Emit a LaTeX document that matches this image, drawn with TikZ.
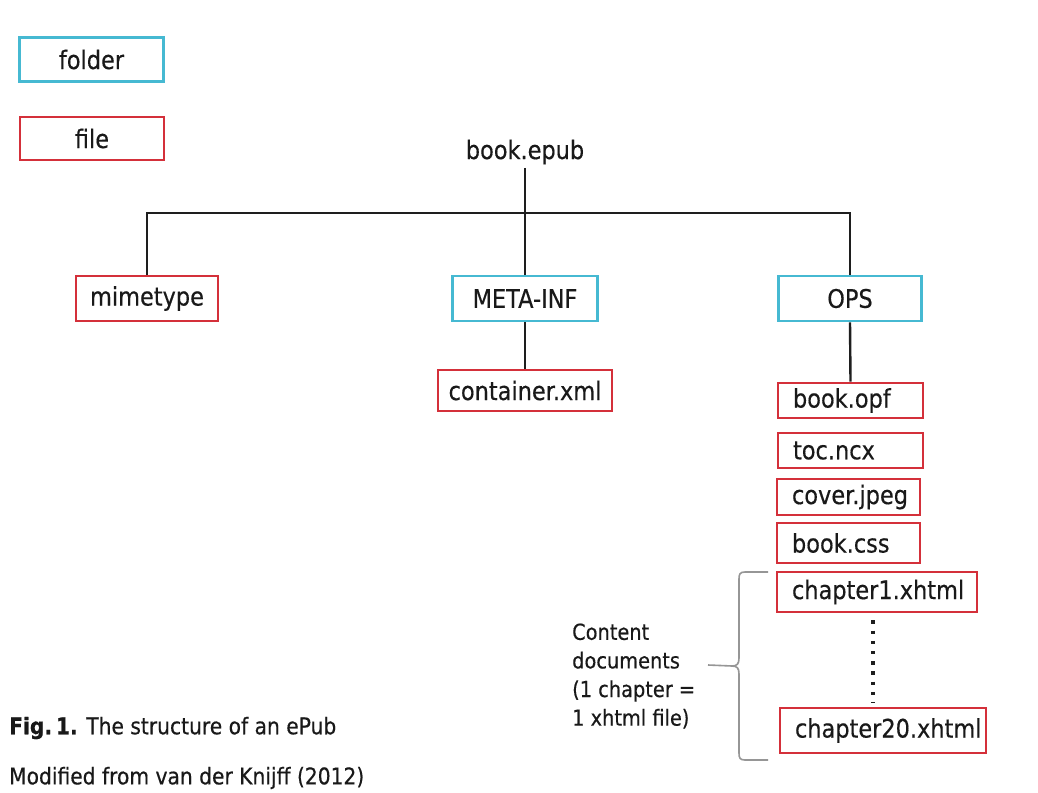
\documentclass[tikz,border=0pt]{standalone}
\usepackage{fontspec}
\setmainfont{DejaVu Sans}[FakeStretch=0.88, FakeBold=0.4]
\definecolor{fred}{RGB}{212,48,58}
\definecolor{fcyan}{RGB}{70,185,210}
\definecolor{txt}{RGB}{25,25,25}
\definecolor{lineblack}{RGB}{30,30,30}
\definecolor{bracegray}{RGB}{150,150,150}
\begin{document}
\begin{tikzpicture}[x=1pt,y=-1pt,
  lbl/.style={font=\fontsize{25.5}{28}\selectfont, text=txt},
  small/.style={font=\fontsize{22}{28.6}\selectfont, text=txt},
  fbox/.style={draw=fred, line width=2.8pt, lbl, inner sep=0pt, fill=white},
  dbox/.style={draw=fcyan, line width=2.8pt, lbl, inner sep=0pt, fill=white},
  leftbox/.style={inner xsep=15pt, inner ysep=0pt, align=left},
  conn/.style={draw=lineblack, line width=2.4pt},
  dotline/.style={draw=lineblack, line width=3.4pt, dash pattern=on 3.4pt off 6.8pt},
  bracel/.style={draw=bracegray, line width=1.6pt},
]
\fill[white] (0,0) rectangle (1038,792);
\useasboundingbox (0,0) rectangle (1038,792);

% legend
\node[dbox, minimum width=144, minimum height=44] (folder) at (91.5,59.5) {folder};
\node[fbox, minimum width=144, minimum height=43] (file) at (92,138.5) {file};

% root
\node[lbl] (epub) at (525,152) {book.epub};
\coordinate (junc) at (525,213);

% level 1
\node[fbox, minimum width=142, minimum height=45] (mime) at (147,298.5) {mimetype};
\node[dbox, minimum width=145, minimum height=45] (meta) at (525,298.5) {META-INF};
\node[dbox, minimum width=143, minimum height=45] (ops) at (850,298.5) {OPS};

% level 2
\node[fbox, minimum width=174, minimum height=41] (cont) at (525,390.5) {container.xml};
\node[fbox, leftbox, text width=115, minimum height=35] (opf) at (850.5,400.5) {book.opf};
\node[fbox, leftbox, text width=115, minimum height=35] (toc) at (850.5,450.5) {toc.ncx};
\node[fbox, leftbox, text width=113, minimum height=36] (cover) at (848.5,497) {cover.jpeg};
\node[fbox, leftbox, text width=113, minimum height=40] (css) at (848.5,543) {book.css};
\node[fbox, leftbox, text width=170, minimum height=40] (ch1) at (877,592) {chapter1.xhtml};
\node[fbox, leftbox, text width=176, minimum height=45] (ch20) at (883,730.5) {chapter20.xhtml};

% connectors
\draw[conn] (epub.south) -- (meta.north);
\draw[conn] (mime.north) -- (mime.north |- junc) -- (ops.north |- junc) -- (ops.north);
\draw[conn] (meta.south) -- (cont.north);
\draw[conn] (ops.south) -- (opf.north);
\coordinate (dotx) at (873,650);
\draw[dotline, shorten <=7pt, shorten >=4pt] (ch1.south -| dotx) -- (ch20.north -| dotx);

% brace
\coordinate (btop) at (768,572);
\coordinate (bbot) at (768,760);
\coordinate (btip) at (708,665);
\draw[bracel] (btop) -- (745,572) .. controls (740,572) and (739,574) .. (739,579)
  -- (739,658) .. controls (739,664) and (737,666) .. (732,666) -- (btip);
\draw[bracel] (732,666) .. controls (737,666) and (739,668) .. (739,674)
  -- (739,753) .. controls (739,758) and (740,760) .. (745,760) -- (bbot);

\node[small, align=left, anchor=west, inner sep=0pt] (cdoc) at (572,676)
  {Content\\documents\\(1 chapter =\\1 xhtml file)};

% caption
\node[small, font=\fontsize{23}{28}\selectfont, anchor=west, inner sep=0pt] (fig) at (9,728)
  {\textbf{Fig.\,1.} The structure of an ePub};
\node[small, font=\fontsize{23}{28}\selectfont, anchor=west, inner sep=0pt] (mod) at (9,778)
  {Modified from van der Knijff (2012)};
\end{tikzpicture}
\end{document}
